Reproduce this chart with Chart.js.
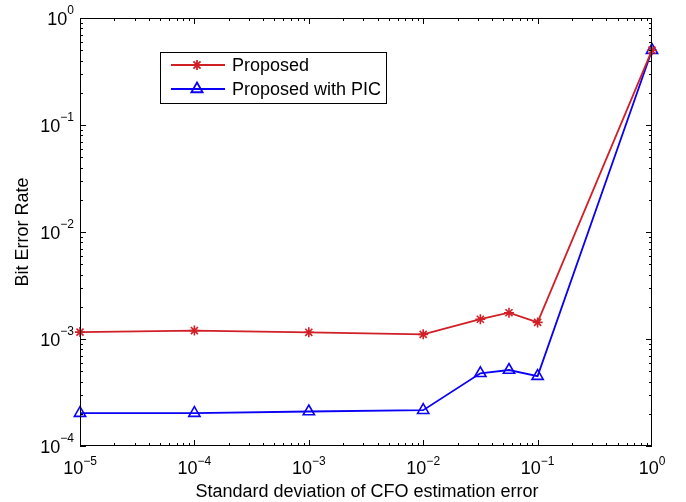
<!DOCTYPE html>
<html>
<head>
<meta charset="utf-8">
<script src="https://cdn.jsdelivr.net/npm/chart.js@4/dist/chart.umd.min.js"></script>
<style>
  html, body { margin: 0; padding: 0; background: #fff; }
  #wrap { width: 686px; height: 502px; }
</style>
</head>
<body>
<div id="wrap"><canvas id="ber"></canvas></div>
<script>
// std. deviation of CFO estimation error
var cfoStd = [1e-5, 1e-4, 1e-3, 1e-2, 0.0316, 0.0562, 0.1, 1];
var berProposed = [1.16e-3, 1.2e-3, 1.155e-3, 1.105e-3, 1.53e-3, 1.76e-3, 1.43e-3, 0.5];
var berProposedPic = [2.03e-4, 2.03e-4, 2.1e-4, 2.16e-4, 4.78e-4, 5.13e-4, 4.5e-4, 0.5];
var xExponents = [-5, -4, -3, -2, -1, 0];
var yExponents = [-4, -3, -2, -1, 0];
var seriesNames = ['Proposed', 'Proposed with PIC'];
var xTitle = 'Standard deviation of CFO estimation error';
var yTitle = 'Bit Error Rate';

var RED = '#d11f26';
var BLUE = '#0a00f5';
var FONT = '"Liberation Sans", Arial, Helvetica, sans-serif';

function toPoints(xs, ys) {
    return xs.map(function(x, i) { return { x: x, y: ys[i] }; });
}

function drawPower(ctx, exp, x, y, align, raise) {
    var base = '10', sup = (exp < 0 ? '\u2212' : '') + Math.abs(exp);
    ctx.font = '18px ' + FONT;
    var wb = ctx.measureText(base).width;
    ctx.font = '12px ' + FONT;
    var ws = ctx.measureText(sup).width;
    var left = align === 'center' ? x - (wb + ws) / 2 : x - (wb + ws);
    ctx.textAlign = 'left';
    ctx.textBaseline = 'alphabetic';
    ctx.font = '18px ' + FONT;
    ctx.fillText(base, left, y);
    ctx.font = '12px ' + FONT;
    ctx.fillText(sup, left + wb, y - raise);
}

// box, inward ticks, tick labels, titles and legend in matlab style
var matlabAxes = {
    id: 'matlabAxes',
    afterDraw: function(chart) {
        var ctx = chart.ctx, a = chart.chartArea;
        var xs = chart.scales.x, ys = chart.scales.y;
        ctx.save();
        ctx.strokeStyle = '#000';
        ctx.fillStyle = '#000';
        ctx.lineWidth = 1;
        ctx.strokeRect(a.left + 0.5, a.top + 0.5, a.right - a.left - 1, a.bottom - a.top - 1);

        ctx.beginPath();
        for (var e = -5; e < 0; e++) {
            for (var m = 1; m <= 9; m++) {
                var px = Math.round(xs.getPixelForValue(m * Math.pow(10, e))) + 0.5;
                var len = m === 1 ? 6 : 3;
                ctx.moveTo(px, a.bottom); ctx.lineTo(px, a.bottom - len);
                ctx.moveTo(px, a.top); ctx.lineTo(px, a.top + len);
            }
        }
        for (var e = -4; e < 0; e++) {
            for (var m = 1; m <= 9; m++) {
                var py = Math.round(ys.getPixelForValue(m * Math.pow(10, e))) + 0.5;
                var len = m === 1 ? 6 : 3;
                ctx.moveTo(a.left, py); ctx.lineTo(a.left + len, py);
                ctx.moveTo(a.right, py); ctx.lineTo(a.right - len, py);
            }
        }
        ctx.stroke();

        xExponents.forEach(function(e) {
            drawPower(ctx, e, xs.getPixelForValue(Math.pow(10, e)), a.bottom + 28, 'center', 9);
        });
        yExponents.forEach(function(e) {
            drawPower(ctx, e, a.left - 6, ys.getPixelForValue(Math.pow(10, e)) + 7, 'right', 11);
        });

        ctx.font = '18px ' + FONT;
        ctx.textAlign = 'center';
        ctx.textBaseline = 'alphabetic';
        ctx.fillText(xTitle, (a.left + a.right) / 2 + 1, 497);
        ctx.save();
        ctx.translate(28, (a.top + a.bottom) / 2);
        ctx.rotate(-Math.PI / 2);
        ctx.fillText(yTitle, 0, 0);
        ctx.restore();

        // legend
        var lx = 160, ly = 52, lw = 226, lh = 51;
        ctx.fillStyle = '#fff';
        ctx.fillRect(lx, ly, lw, lh);
        ctx.strokeStyle = '#000';
        ctx.strokeRect(lx + 0.5, ly + 0.5, lw, lh);
        chart.data.datasets.forEach(function(ds, i) {
            var ry = 65 + i * 24;
            ctx.strokeStyle = ds.borderColor;
            ctx.fillStyle = ds.backgroundColor;
            ctx.lineWidth = ds.borderWidth;
            ctx.beginPath();
            ctx.moveTo(171, ry); ctx.lineTo(225, ry);
            ctx.stroke();
            Chart.helpers.drawPoint(ctx, {
                pointStyle: ds.pointStyle, radius: ds.pointRadius, rotation: 0, borderWidth: ds.pointBorderWidth
            }, 197, ry);
            ctx.fillStyle = '#000';
            ctx.font = '18px ' + FONT;
            ctx.textAlign = 'left';
            ctx.textBaseline = 'middle';
            ctx.fillText(ds.label, 232, ry + 1);
        });
        ctx.restore();
    }
};

new Chart(document.getElementById('ber').getContext('2d'), {
    type: 'line',
    data: {
        datasets: [{
            label: seriesNames[0],
            data: toPoints(cfoStd, berProposed),
            borderColor: RED,
            backgroundColor: RED,
            borderWidth: 1.8,
            pointStyle: 'star',
            pointRadius: 5,
            pointBorderWidth: 1.6,
            tension: 0,
            clip: false
        }, {
            label: seriesNames[1],
            data: toPoints(cfoStd, berProposedPic),
            borderColor: BLUE,
            backgroundColor: 'rgba(0,0,0,0)',
            borderWidth: 1.8,
            pointStyle: 'triangle',
            pointRadius: 6.5,
            pointBorderWidth: 1.6,
            tension: 0,
            clip: false
        }]
    },
    options: {
        responsive: true,
        maintainAspectRatio: false,
        animation: false,
        layout: { padding: { left: 80, top: 18, right: 34, bottom: 56 } },
        plugins: { legend: { display: false }, tooltip: { enabled: false } },
        scales: {
            x: {
                type: 'logarithmic', min: 1e-5, max: 1,
                grid: { display: false }, border: { display: false },
                ticks: { display: false },
                afterFit: function(s) { s.height = 0; }
            },
            y: {
                type: 'logarithmic', min: 1e-4, max: 1,
                grid: { display: false }, border: { display: false },
                ticks: { display: false },
                afterFit: function(s) { s.width = 0; }
            }
        }
    },
    plugins: [matlabAxes]
});
</script>
</body>
</html>
